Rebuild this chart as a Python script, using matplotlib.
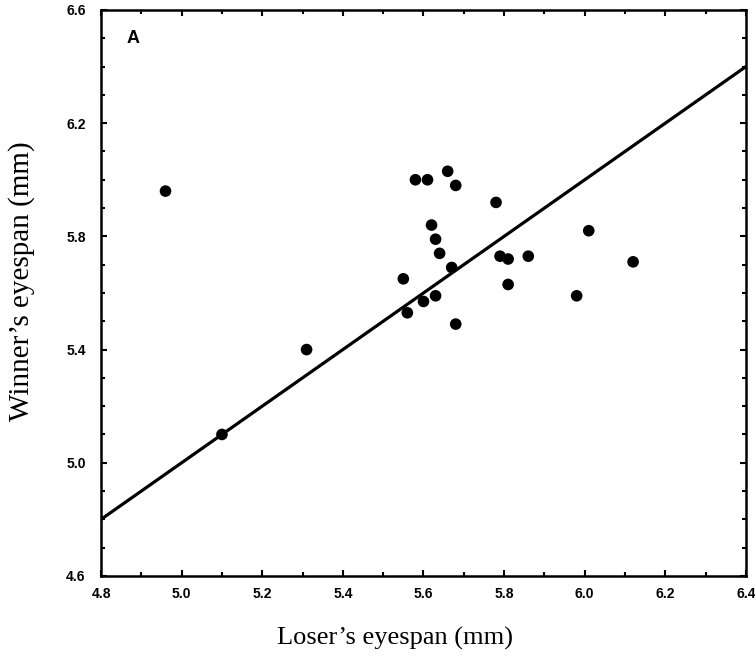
import numpy as np
import matplotlib
matplotlib.use('Agg')
import matplotlib.pyplot as plt
from matplotlib.ticker import MultipleLocator

# loser / winner eyespan pairs (mm)
loser = [4.96, 5.10, 5.31, 5.55, 5.56, 5.58, 5.61, 5.66, 5.68, 5.78,
         5.62, 5.63, 5.64, 5.67, 5.60, 5.63, 5.68, 5.79, 5.81, 5.86,
         5.81, 5.98, 6.01, 6.12]
winner = [5.96, 5.10, 5.40, 5.65, 5.53, 6.00, 6.00, 6.03, 5.98, 5.92,
          5.84, 5.79, 5.74, 5.69, 5.57, 5.59, 5.49, 5.73, 5.72, 5.73,
          5.63, 5.59, 5.82, 5.71]

# 1:1 reference line
line_x = [4.8, 6.4]
line_y = [4.8, 6.4]

xticks = [4.8, 5.0, 5.2, 5.4, 5.6, 5.8, 6.0, 6.2, 6.4]
yticks = [4.6, 5.0, 5.4, 5.8, 6.2, 6.6]

fig = plt.figure(figsize=(7.55, 6.56), dpi=100)
ax = fig.add_axes([0.1338, 0.122, 0.8542, 0.8628])

ax.plot(line_x, line_y, color='black', lw=2.3, solid_capstyle='butt', zorder=2)
ax.scatter(loser, winner, s=70, color='black', edgecolors='none', zorder=3)

ax.set_xlim(4.8, 6.4)
ax.set_ylim(4.6, 6.6)
ax.set_xticks(xticks)
ax.set_yticks(yticks)
ax.set_xticklabels(['%.1f' % v for v in xticks])
ax.set_yticklabels(['%.1f' % v for v in yticks])
ax.xaxis.set_minor_locator(MultipleLocator(0.1))
ax.yaxis.set_minor_locator(MultipleLocator(0.1))

for s in ax.spines.values():
    s.set_linewidth(1.8)

ax.tick_params(which='both', direction='in', top=True, right=True,
               width=1.5, color='black')
ax.tick_params(which='major', length=4)
ax.tick_params(which='minor', length=3)
ax.tick_params(axis='x', pad=8, labelsize=10)
ax.tick_params(axis='y', pad=11, labelsize=10)
for lab in ax.get_xticklabels() + ax.get_yticklabels():
    lab.set_family('Liberation Sans')
    lab.set_fontweight('bold')

# axis titles placed in figure coords (label centres sit off the axes centre)
fig.text(395 / 755, 1 - 638 / 656, "Loser\u2019s eyespan (mm)",
         family='Liberation Serif', fontsize=19, ha='center', va='center')
fig.text(22 / 755, 1 - 281 / 656, "Winner\u2019s eyespan (mm)",
         family='Liberation Serif', fontsize=21, ha='center', va='center',
         rotation=90)

ax.text(0.04, 0.949, 'A', transform=ax.transAxes, family='Liberation Sans',
        fontweight='bold', fontsize=13, va='center', ha='left')

fig.savefig('out.png', dpi=100)
